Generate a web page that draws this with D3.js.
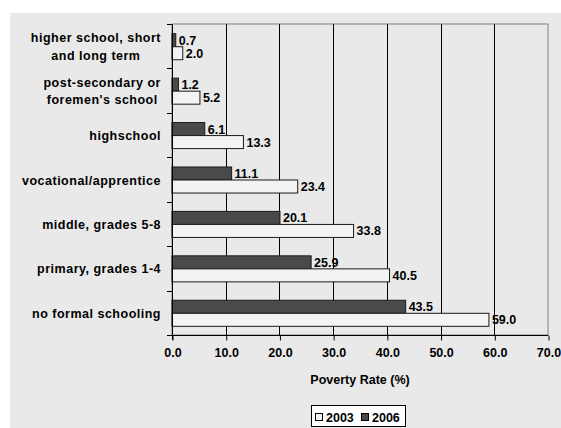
<!DOCTYPE html>
<html>
<head>
<meta charset="utf-8">
<script src="https://cdn.jsdelivr.net/npm/d3@7"></script>
<style>
  html, body { margin: 0; padding: 0; background: #ffffff; }
  svg text { font-family: "Liberation Sans", Arial, sans-serif; font-weight: bold; fill: #000; }
</style>
</head>
<body>
<svg id="chart" width="561" height="428"></svg>
<script>
// Education levels, top to bottom; each label may span two lines
const categories = [
  ["higher school, short", "and long term"],
  ["post-secondary or", "foremen's school"],
  ["highschool"],
  ["vocational/apprentice"],
  ["middle, grades 5-8"],
  ["primary, grades 1-4"],
  ["no formal schooling"]
];
const rate2006 = [0.7, 1.2, 6.1, 11.1, 20.1, 25.9, 43.5];
const rate2003 = [2.0, 5.2, 13.3, 23.4, 33.8, 40.5, 59.0];
const xTicks = [0, 10, 20, 30, 40, 50, 60, 70];
const seriesNames = ["2003", "2006"];

const svg = d3.select("#chart");
const W = 561, H = 428;
const FS = 12.5;
const LABEL_RIGHT = 161;

// panel background
svg.append("rect").attr("x", 10).attr("y", 13).attr("width", W - 10).attr("height", H - 13)
  .attr("fill", "#e9e9e9");

const plot = { left: 172, right: 548, top: 24, bottom: 335 };

const x = d3.scaleLinear().domain([0, 70]).range([plot.left, plot.right]);
const y = d3.scaleBand().domain(d3.range(categories.length))
  .range([plot.top, plot.bottom]).paddingInner(0).paddingOuter(0);
const step = y.bandwidth();
const barH = step * 0.293;

// plot frame (top/right grey)
svg.append("rect").attr("x", plot.left).attr("y", plot.top)
  .attr("width", plot.right - plot.left).attr("height", plot.bottom - plot.top)
  .attr("fill", "#e9e9e9").attr("stroke", "#808080").attr("stroke-width", 1);

// vertical gridlines
svg.append("g").selectAll("line").data(xTicks.filter(t => t > 0 && t < 70)).join("line")
  .attr("x1", d => Math.round(x(d)) + 0.5).attr("x2", d => Math.round(x(d)) + 0.5)
  .attr("y1", plot.top).attr("y2", plot.bottom)
  .attr("stroke", "#000").attr("stroke-width", 1);

// bars
const g = svg.append("g");
categories.forEach((c, i) => {
  const mid = y(i) + step / 2 + 0.5;
  // 2006 (dark) above 2003 (light)
  g.append("rect").attr("x", x(0)).attr("y", mid - barH)
    .attr("width", x(rate2006[i]) - x(0)).attr("height", barH)
    .attr("fill", "#4a4a4a").attr("stroke", "#1a1a1a").attr("stroke-width", 1);
  g.append("rect").attr("x", x(0)).attr("y", mid)
    .attr("width", x(rate2003[i]) - x(0)).attr("height", barH)
    .attr("fill", "#f3f3f3").attr("stroke", "#1a1a1a").attr("stroke-width", 1);
  g.append("text").attr("x", x(rate2006[i]) + 3).attr("y", mid - barH / 2)
    .attr("dy", "0.36em").attr("font-size", FS).text(rate2006[i].toFixed(1));
  g.append("text").attr("x", x(rate2003[i]) + 3).attr("y", mid + barH / 2)
    .attr("dy", "0.36em").attr("font-size", FS).text(rate2003[i].toFixed(1));

  // category label: block right-aligned to the axis, lines centred within the block
  const t = g.append("text").attr("text-anchor", "middle")
    .attr("font-size", FS).attr("letter-spacing", 0.5);
  const lh = 17.5;
  const spans = c.map((line, k) => t.append("tspan")
    .attr("y", mid + (k - (c.length - 1) / 2) * lh)
    .attr("dy", "0.36em").text(line));
  const maxW = d3.max(spans, s => s.node().getComputedTextLength());
  spans.forEach(s => s.attr("x", LABEL_RIGHT - maxW / 2));
});

// left axis
const yAxis = svg.append("g");
yAxis.append("line").attr("x1", plot.left + 0.5).attr("x2", plot.left + 0.5)
  .attr("y1", plot.top).attr("y2", plot.bottom + 5).attr("stroke", "#000");
yAxis.selectAll("line.tick").data(d3.range(categories.length + 1)).join("line")
  .attr("class", "tick")
  .attr("x1", plot.left - 5).attr("x2", plot.left)
  .attr("y1", d => Math.round(plot.top + d * step) + 0.5)
  .attr("y2", d => Math.round(plot.top + d * step) + 0.5)
  .attr("stroke", "#000");

// bottom axis
const xAxis = d3.axisBottom(x).tickValues(xTicks).tickFormat(d3.format(".1f"))
  .tickSize(5).tickPadding(8);
const xg = svg.append("g").attr("transform", `translate(0.5,${plot.bottom + 0.5})`).call(xAxis);
xg.select(".domain").attr("stroke", "#000").attr("d", `M${plot.left - 0.5},0H${plot.right - 0.5}`);
xg.selectAll(".tick line").attr("stroke", "#000");
xg.selectAll(".tick text").attr("font-size", FS).attr("font-family", "Liberation Sans, Arial, sans-serif")
  .attr("font-weight", "bold").attr("fill", "#000");

// axis title
svg.append("text").attr("x", (plot.left + plot.right) / 2).attr("y", 383.5)
  .attr("text-anchor", "middle").attr("font-size", FS).text("Poverty Rate (%)");

// legend
const lg = svg.append("g");
lg.append("rect").attr("x", 311.5).attr("y", 405.5).attr("width", 94).attr("height", 21)
  .attr("fill", "#ffffff").attr("stroke", "#000");
const legendItems = [
  { name: seriesNames[0], fill: "#f3f3f3", x: 315 },
  { name: seriesNames[1], fill: "#4a4a4a", x: 361 }
];
legendItems.forEach(d => {
  lg.append("rect").attr("x", d.x + 0.5).attr("y", 413.5).attr("width", 7).attr("height", 7)
    .attr("fill", d.fill).attr("stroke", "#000");
  lg.append("text").attr("x", d.x + 11).attr("y", 421.5).attr("font-size", FS).text(d.name);
});
</script>
</body>
</html>
